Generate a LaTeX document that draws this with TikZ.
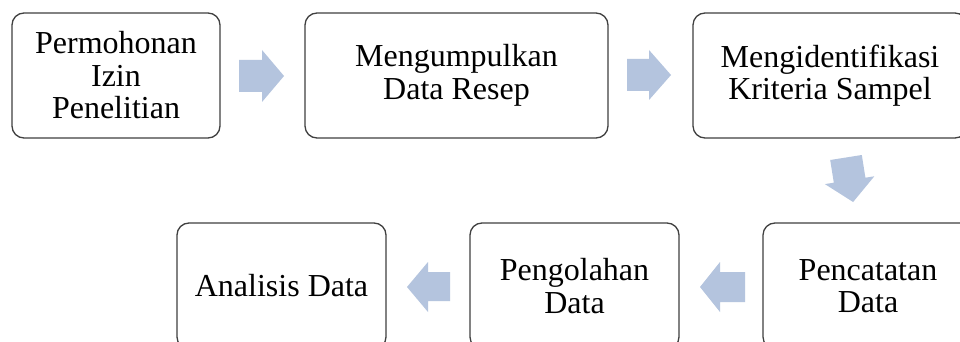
\documentclass[tikz,border=0pt]{standalone}
\usepackage{fontspec}
\setmainfont{Liberation Serif}
\definecolor{arrowblue}{RGB}{180,196,222}
\definecolor{boxline}{RGB}{64,64,64}
\begin{document}
\begin{tikzpicture}[x=1pt,y=-1pt,
  stepbox/.style={draw=boxline, line width=1.3pt, rounded corners=12pt, fill=white,
    align=center, inner sep=0pt, minimum height=125pt,
    font=\fontsize{32}{32.5}\selectfont},
  blockarrow/.style={fill=arrowblue, draw=none}]
\useasboundingbox (0,0) rectangle (960,342);
\clip (0,0) rectangle (960,342);
\fill[white] (0,0) rectangle (960,342);
% top row
\node[stepbox, minimum width=208pt] (b1) at (116,75.5) {Permohonan\\Izin\\Penelitian};
\node[stepbox, minimum width=303pt] (b2) at (456.5,75.5) {Mengumpulkan\\Data Resep};
\node[stepbox, minimum width=274pt] (b3) at (830,75.5) {Mengidentifikasi\\Kriteria Sampel};
% bottom row
\node[stepbox, minimum width=210pt, minimum height=126pt] (b4) at (868,286) {Pencatatan\\Data};
\node[stepbox, minimum width=209pt, minimum height=126pt] (b5) at (574.5,286) {Pengolahan\\Data};
\node[stepbox, minimum width=209pt, minimum height=126pt] (b6) at (281.5,286) {Analisis Data};
% block arrows
\fill[blockarrow] (239,60) -- (262,60) -- (262,50) -- (284,76) -- (262,102) -- (262,92) -- (239,92) -- cycle;
\fill[blockarrow] (627,59) -- (649,59) -- (649,50) -- (671,75) -- (649,100) -- (649,91) -- (627,91) -- cycle;
\fill[blockarrow] (830.2,160) -- (861.8,155) -- (865.4,177.7) -- (874.3,176.3) -- (853.1,202) -- (824.9,184.1) -- (833.8,182.7) -- cycle;
\fill[blockarrow] (745,272) -- (720,272) -- (720,262) -- (700,287) -- (720,312) -- (720,302) -- (745,302) -- cycle;
\fill[blockarrow] (450,272) -- (428,272) -- (428,262) -- (407,287) -- (428,312) -- (428,301) -- (450,301) -- cycle;
\end{tikzpicture}
\end{document}
